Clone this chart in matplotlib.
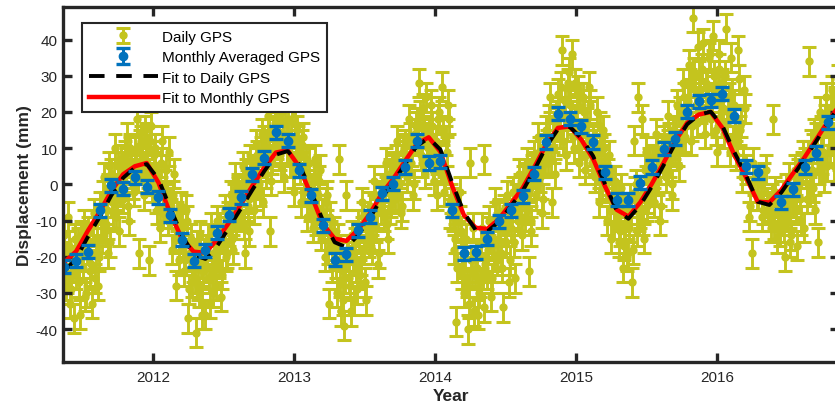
import numpy as np
import matplotlib.pyplot as plt

plt.rcParams['font.family'] = ['Liberation Sans', 'DejaVu Sans']
plt.rcParams['axes.unicode_minus'] = False
nan = np.nan

# times: first sample in mid May 2011
t_start = 2011.37

# monthly averaged GPS (mm), one value per month, one month missing in 2016
monthly_disp = [
    -22.8, -21.1, -18.6, -7.2, -0.3, -1.2, 2.0, -0.7,
    -3.5, -8.5, -15.3, -21.1, -18.2, -13.3, -8.4, -3.5, 2.8, 7.4, 14.4, 12.1,
    3.9, -3.0, -11.3, -20.8, -19.3, -12.7, -9.0, -2.4, 0.2, 4.8, 12.1, 5.9,
    6.4, -7.2, -19.1, -18.7, -15.0, -10.2, -7.2, -3.3, 3.0, 11.7, 19.5, 18.1,
    16.1, 11.7, 3.4, -4.2, -4.2, 0.4, 4.8, 9.8, 12.6, 20.0, 23.0, 23.2,
    25.0, 19.0, 5.0, 3.4, nan, -5.0, -1.4, 4.8, 8.7, 17.2,
]
monthly_err = 1.8

# fitted curves evaluated once a month
fit_daily = [
    -24.0, -20.5, -14.5, -9.0, -3.0, 1.8, 4.6, 5.6,
    1.5, -6.5, -14.0, -19.5, -20.6, -17.0, -12.0, -6.8, -1.5, 3.6, 8.2, 9.2,
    5.5, -2.0, -10.0, -16.0, -17.4, -14.0, -9.3, -3.8, 0.6, 5.6, 10.6, 12.8,
    9.6, 0.5, -7.8, -12.6, -13.0, -10.3, -6.0, -1.8, 4.0, 10.4, 15.2, 15.9,
    12.8, 7.8, 0.2, -7.2, -9.5, -5.8, -0.6, 5.3, 11.4, 16.6, 19.2, 20.1,
    16.2, 9.0, 2.6, -4.8, -5.7, -2.3, 2.3, 7.0, 12.0, 17.2, 21.8,
]
fit_monthly = [
    -21.5, -18.5, -12.8, -7.6, -1.8, 2.8, 5.0, 5.9,
    0.5, -8.0, -15.0, -18.6, -18.9, -15.2, -10.6, -5.6, -0.4, 4.6, 8.8, 9.4,
    4.8, -3.0, -11.0, -15.0, -15.6, -12.5, -8.1, -2.6, 1.6, 6.5, 11.2, 13.0,
    9.0, -0.5, -8.5, -12.0, -12.3, -9.5, -5.3, -1.0, 4.8, 11.0, 15.6, 16.0,
    12.3, 7.0, -0.5, -7.0, -8.9, -5.0, 0.2, 6.0, 12.0, 17.0, 19.3, 20.0,
    15.6, 8.2, 2.0, -4.8, -5.0, -1.6, 3.0, 7.5, 12.5, 17.5, 22.0,
]

# daily GPS (mm), samples every ~5 days (6 per month, one row per month)
daily_a = [
    -14, -28, -9, -33, -21, -37,
    -25, -16, -36, -20, -11, -30,
    -13, -24, -33, -8, -19, -28,
    -6, -15, 2, -11, -19, 5,
    3, -8, 10, -3, -13, 7,
    -4, 8, 13, -10, 4, 0,
    9, 18, -19, 12, 4, 15,
    6, -21, 16, 1, 10, -4,
    2, -12, 12, -6, 4, -10,
    -5, -18, 3, -28, -11, -14,
    -12, -24, -7, -37, -19, -27,
    -20, -41, -28, -14, -33, -24,
    -36, -18, -26, -12, -30, -21,
    -10, -22, -31, -15, -7, -19,
    -13, -3, -18, 2, -9, -5,
    -8, 5, -19, 0, -4, 7,
    2, -7, 11, 6, -2, 14,
    12, 3, 19, -13, 7, 15,
    16, 27, 8, 20, 2, 13,
    18, 6, 21, -2, 11, 15,
    9, -5, 13, 2, -9, 6,
    -2, -12, 7, -7, 1, -14,
    -8, -20, -3, -33, -14, -17,
    -18, -30, 7, -35, -24, -39,
    -3, -20, -28, -14, -32, -23,
    -11, -25, -5, -18, -32, -13,
    -6, -18, 1, -12, -22, -4,
    -1, -9, 6, -15, 3, -5,
    5, -4, 12, 0, -8, 9,
    11, 2, 18, 6, -3, 14,
    17, 28, 8, 21, 3, 12,
    14, 22, 4, 10, -3, 18,
    8, 27, -2, 12, 22, -8,
    -5, -18, -38, -10, -2, -25,
    -30, -15, -40, 6, -24, -35,
    -19, -36, -27, -12, 7, -23,
    -25, -10, -31, -16, -5, -21,
    -8, -19, -34, -13, -3, -27,
    -12, -2, -26, -6, 3, -9,
    1, -9, 6, -24, -13, 4,
    8, -3, 13, 2, -8, 10,
    15, 6, 24, -5, 10, 19,
    25, 14, 37, 19, 8, 28,
    22, 36, 10, 17, 26, 6,
    11, 24, 4, 17, 27, 9,
    13, 2, 20, -5, 9, 15,
    4, -10, 8, -15, -3, 1,
    -6, -16, -1, -23, -11, -8,
    -19, -4, -27, 12, 0, 24,
    -8, 18, -15, 9, -4, 1,
    7, -5, 14, 1, -10, 10,
    12, 2, 19, 6, -3, 15,
    10, 22, 5, 17, 28, 13,
    20, 33, 12, 46, 26, 17,
    30, 21, 39, 14, 27, 35,
    18, 41, 26, 9, 32, 22,
    28, 14, 43, 20, 9, 25,
    22, 8, 37, 15, 2, 26,
    4, nan, -6, -19, 1, nan,
    -3, nan, -9, 2, nan, -5,
    -6, -12, 18, -2, -15, -8,
    -10, -3, -20, -7, 2, -14,
    -5, 4, -17, 0, -10, 8,
    6, -4, 34, 11, -1, 14,
    13, -16, 20, 7, 2, 24,
    18, 10, 26, 5, 21, 29,
    24, 15, 28, nan, nan, nan,
]
# the days in between (shifted by ~2.5 days)
daily_b = [
    -20, -26, -17, -29, -23, -15,
    -19, -27, -14, -23, -31, -18,
    -16, -22, -11, -26, -15, -20,
    -10, -3, -13, -7, -1, -16,
    -5, 2, -9, 5, -2, 1,
    1, 6, -6, 10, 3, -2,
    6, 2, 11, 7, -3, 13,
    3, 12, -1, 8, 5, -7,
    -3, 6, -8, 0, -4, 9,
    -8, -3, -15, -9, -21, -6,
    -16, -21, -10, -29, -15, -23,
    -26, -17, -30, -22, -36, -19,
    -23, -15, -33, -25, -19, -28,
    -17, -12, -25, -13, -20, -9,
    -7, -15, -4, -11, -1, -8,
    -2, -11, 3, -6, -13, 2,
    4, -3, 8, 0, 9, -5,
    9, 5, 14, 1, 10, 17,
    11, 18, 5, 14, 22, 10,
    9, 13, 3, 17, 8, 12,
    4, 11, -2, 7, 0, -6,
    -5, 2, -10, -3, 4, -8,
    -11, -5, -18, -9, -23, -13,
    -22, -15, -27, -20, -32, -26,
    -18, -26, -35, -21, -16, -29,
    -15, -21, -9, -27, -12, -16,
    -10, -15, -3, -8, -19, -7,
    -4, 1, -11, -2, -7, 4,
    1, 7, -3, 3, -6, 10,
    8, 4, 13, 9, 0, 16,
    12, 19, 6, 15, 24, 10,
    9, 16, 1, 12, 7, 20,
    4, 15, 1, 9, 18, -4,
    -9, -15, -23, -6, -13, -20,
    -19, -27, -33, -21, -12, -25,
    -23, -30, -16, -25, -34, -20,
    -18, -13, -26, -20, -9, -15,
    -12, -23, -7, -16, -10, -21,
    -8, -16, -4, -10, -1, -14,
    -3, 2, -7, -1, -10, 3,
    5, 0, 9, 4, -4, 7,
    11, 18, 7, 13, 3, 16,
    20, 27, 12, 23, 16, 31,
    19, 13, 28, 21, 14, 24,
    14, 20, 8, 13, 22, 6,
    7, 11, 4, 16, 0, 10,
    -1, 3, -7, 1, -11, -4,
    -9, -13, -4, -17, -7, -20,
    -12, -7, -18, -2, -13, -9,
    -3, -10, 4, -6, 6, -1,
    3, -2, 9, 4, -6, 6,
    8, 4, 13, 9, 0, 11,
    14, 9, 20, 12, 24, 16,
    23, 28, 16, 31, 22, 38,
    25, 32, 18, 28, 23, 36,
    24, 30, 15, 27, 36, 20,
    21, 30, 17, 24, 35, 12,
    18, 12, 29, 17, 6, 21,
    nan, -9, nan, 6, nan, -3,
    nan, 0, -7, nan, 4, nan,
    -9, -4, -11, nan, -6, -13,
    -6, -12, -1, -9, -16, -4,
    -2, -7, 3, -4, 5, -12,
    3, 8, -2, 4, 10, -7,
    10, 4, 15, 9, 18, 5,
    15, 20, 12, 23, 14, 8,
    20, 26, nan, nan, nan, nan,
]
daily_err = 4.0

year_ticks = [2012, 2013, 2014, 2015, 2016]
disp_ticks = [-40, -30, -20, -10, 0, 10, 20, 30, 40]

t_a = t_start + np.arange(len(daily_a)) / 72.0
t_b = t_start + 1 / 144.0 + np.arange(len(daily_b)) / 72.0
t_daily = np.concatenate([t_a, t_b])
daily_disp = np.concatenate([daily_a, daily_b])
t_month = t_start + np.arange(len(monthly_disp)) / 12.0
t_fit = t_start + np.arange(len(fit_daily)) / 12.0

yel = '#C4C41E'
blue = '#0072BD'
grey = '#262626'

fig = plt.figure(figsize=(8.35, 4.06), dpi=100)
ax = fig.add_axes([0.0758, 0.1066, 0.9284, 0.8737])

ax.errorbar(t_daily, daily_disp, yerr=daily_err, fmt='o', color=yel, ms=5,
            elinewidth=2.1, capsize=5, capthick=2.2, label='Daily GPS', zorder=1)
ax.plot(t_fit, fit_monthly, color='r', lw=3.2, label='Fit to Monthly GPS', zorder=2)
ax.plot(t_fit, fit_daily, color='k', ls=(0, (4, 3)), lw=2.8, label='Fit to Daily GPS', zorder=3)
ax.errorbar(t_month, monthly_disp, yerr=monthly_err, fmt='o', color=blue, ms=6,
            elinewidth=2.2, capsize=5, capthick=2.4, label='Monthly Averaged GPS', zorder=4)

ax.set_xlim(2011.362, 2016.86)
ax.set_ylim(-49, 49)
ax.set_xticks(year_ticks)
ax.set_xticklabels([str(y) for y in year_ticks])
ax.set_yticks(disp_ticks)

ax.tick_params(direction='in', length=6.5, width=2.4, top=True, right=True,
               labelsize=11, color=grey, labelcolor=grey)
ax.tick_params(axis='y', pad=4)
ax.tick_params(axis='x', pad=6)
for s in ax.spines.values():
    s.set_linewidth(2.4)
    s.set_color(grey)
    s.set_zorder(6)

ax.set_xlabel('Year', fontsize=12.5, fontweight='bold', color=grey, labelpad=3)
ax.set_ylabel('Displacement (mm)', fontsize=12.5, fontweight='bold', color=grey, labelpad=3)

handles, labels = ax.get_legend_handles_labels()
order = ['Daily GPS', 'Monthly Averaged GPS', 'Fit to Daily GPS', 'Fit to Monthly GPS']
hs = [handles[labels.index(n)] for n in order]
leg = ax.legend(hs, order, loc='upper left', bbox_to_anchor=(0.024, 0.955), borderaxespad=0,
                fontsize=11, handlelength=4.5, handletextpad=0.3, labelspacing=0.42,
                borderpad=0.45, fancybox=False, framealpha=1, edgecolor=grey)
leg.get_frame().set_linewidth(1.5)
leg.set_zorder(10)

fig.savefig('out.png', dpi=100)
